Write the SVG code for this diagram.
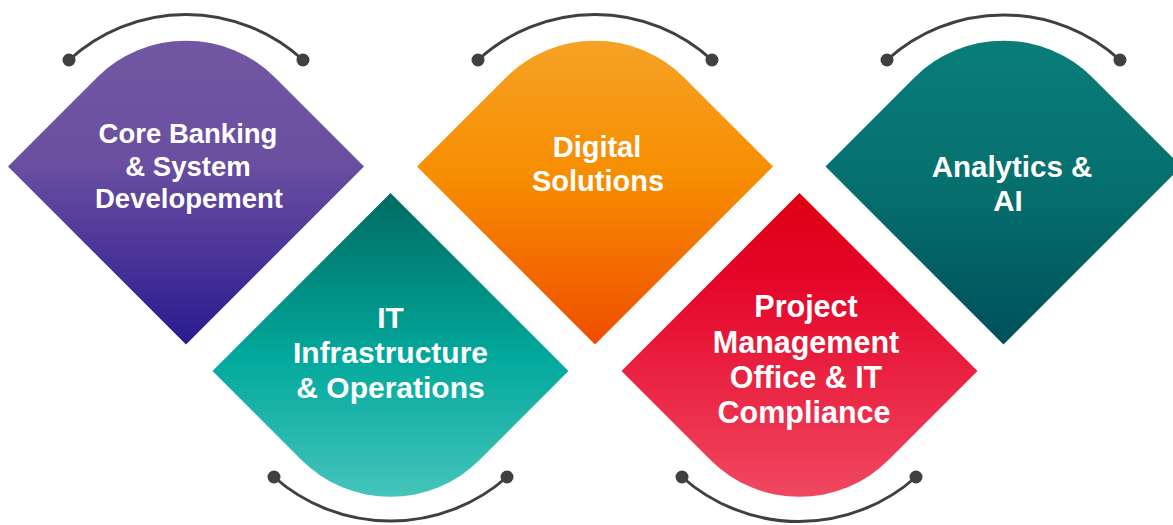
<svg xmlns="http://www.w3.org/2000/svg" width="1173" height="525" viewBox="0 0 1173 525">
  <defs>
    <linearGradient id="gPurple" x1="0" y1="0" x2="0" y2="1">
      <stop offset="0" stop-color="#7157a3"/>
      <stop offset="0.4" stop-color="#6a4fa0"/>
      <stop offset="1" stop-color="#2a1a8e"/>
    </linearGradient>
    <linearGradient id="gTeal" x1="0" y1="0" x2="0" y2="1">
      <stop offset="0" stop-color="#006b62"/>
      <stop offset="0.55" stop-color="#03a99d"/>
      <stop offset="1" stop-color="#45c4bb"/>
    </linearGradient>
    <linearGradient id="gOrange" x1="0" y1="0" x2="0" y2="1">
      <stop offset="0" stop-color="#f6a225"/>
      <stop offset="0.45" stop-color="#f78d00"/>
      <stop offset="1" stop-color="#ef4d00"/>
    </linearGradient>
    <linearGradient id="gRed" x1="0" y1="0" x2="0" y2="1">
      <stop offset="0" stop-color="#de0010"/>
      <stop offset="0.3" stop-color="#e5062a"/>
      <stop offset="1" stop-color="#f04861"/>
    </linearGradient>
    <linearGradient id="gDark" x1="0" y1="0" x2="0" y2="1">
      <stop offset="0" stop-color="#0a7d79"/>
      <stop offset="0.45" stop-color="#06716f"/>
      <stop offset="1" stop-color="#00505b"/>
    </linearGradient>
    <style>
      .lbl { font-family: "Liberation Sans", Arial, sans-serif; font-weight: bold; fill: #ffffff; text-anchor: middle; }
      .arc { fill: none; stroke: #404040; stroke-width: 3; stroke-linecap: round; }
      .dot { fill: #404040; }
    </style>
  </defs>

  <g id="connectors">
    <path class="arc" d="M69,60 A173,173 0 0 1 303,60"/>
    <circle class="dot" cx="69" cy="60" r="6.5"/>
    <circle class="dot" cx="303" cy="60" r="6.5"/>

    <path class="arc" d="M478,60 A173,173 0 0 1 712,60"/>
    <circle class="dot" cx="478" cy="60" r="6.5"/>
    <circle class="dot" cx="712" cy="60" r="6.5"/>

    <path class="arc" d="M887,60 A173,173 0 0 1 1120,60"/>
    <circle class="dot" cx="887" cy="60" r="6.5"/>
    <circle class="dot" cx="1120" cy="60" r="6.5"/>

    <path class="arc" d="M274,477 A176,176 0 0 0 507,477"/>
    <circle class="dot" cx="274" cy="477" r="6.5"/>
    <circle class="dot" cx="507" cy="477" r="6.5"/>

    <path class="arc" d="M682,477 A176,176 0 0 0 916,477"/>
    <circle class="dot" cx="682" cy="477" r="6.5"/>
    <circle class="dot" cx="916" cy="477" r="6.5"/>
  </g>

  <g id="node-core-banking">
    <path fill="url(#gPurple)" d="M8,166.5 L97,77.5 A125.87,125.87 0 0 1 275,77.5 L364,166.5 L186,344.5 Z"/>
    <text class="lbl" font-size="27.5" x="188" y="143">Core Banking</text>
    <text class="lbl" font-size="27.5" x="188" y="175.5">&amp; System</text>
    <text class="lbl" font-size="27.5" x="189" y="208">Developement</text>
  </g>

  <g id="node-it-infrastructure">
    <path fill="url(#gTeal)" d="M390.5,193 L568.5,371 L479.5,460 A125.87,125.87 0 0 1 301.5,460 L212.5,371 Z"/>
    <text class="lbl" font-size="30" x="390.5" y="328">IT</text>
    <text class="lbl" font-size="30" x="390.5" y="363">Infrastructure</text>
    <text class="lbl" font-size="30" x="390.5" y="397.5">&amp; Operations</text>
  </g>

  <g id="node-digital-solutions">
    <path fill="url(#gOrange)" d="M417,166.5 L506,77.5 A125.87,125.87 0 0 1 684,77.5 L773,166.5 L595,344.5 Z"/>
    <text class="lbl" font-size="29" x="597" y="157">Digital</text>
    <text class="lbl" font-size="29" x="598" y="191">Solutions</text>
  </g>

  <g id="node-pmo">
    <path fill="url(#gRed)" d="M799.5,193 L977.5,371 L888.5,460 A125.87,125.87 0 0 1 710.5,460 L621.5,371 Z"/>
    <text class="lbl" font-size="30.5" x="806" y="317">Project</text>
    <text class="lbl" font-size="30.5" x="806" y="352.5">Management</text>
    <text class="lbl" font-size="30.5" x="806" y="388">Office &amp; IT</text>
    <text class="lbl" font-size="30.5" x="804" y="423">Compliance</text>
  </g>

  <g id="node-analytics">
    <path fill="url(#gDark)" d="M825.5,166.5 L914.5,77.5 A125.87,125.87 0 0 1 1092.5,77.5 L1181.5,166.5 L1003.5,344.5 Z"/>
    <text class="lbl" font-size="29.5" x="1012" y="177">Analytics &amp;</text>
    <text class="lbl" font-size="29.5" x="1008" y="211">AI</text>
  </g>
</svg>
